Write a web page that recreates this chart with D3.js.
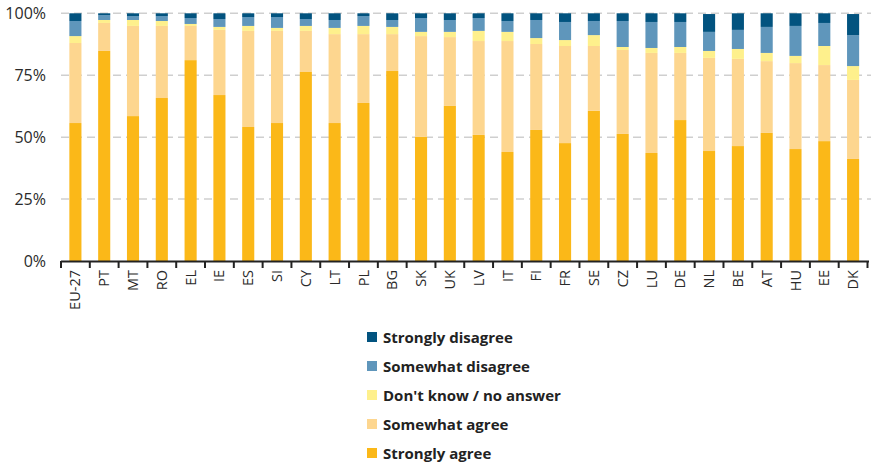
<!DOCTYPE html>
<html><head><meta charset="utf-8">
<script src="https://cdn.jsdelivr.net/npm/d3@7"></script>
<style>body{margin:0;background:#fff}svg{display:block}</style>
</head><body>
<svg id="c" width="871" height="467"></svg>
<script>
const countries = ["EU-27","PT","MT","RO","EL","IE","ES","SI","CY","LT","PL","BG","SK","UK","LV","IT","FI","FR","SE","CZ","LU","DE","NL","BE","AT","HU","EE","DK"];
const stronglyAgree    = [55.7,84.8,58.5,65.8,81.1,67.0,54.1,55.7,76.3,55.7,63.8,76.7,50.1,62.6,50.9,44.0,52.9,47.6,60.6,51.3,43.6,56.9,44.4,46.4,51.7,45.2,48.4,41.2];
const somewhatAgree    = [32.3,11.3,36.4,29.1,13.8,26.3,38.8,37.2,16.6,35.9,27.8,14.9,40.7,27.8,37.9,44.8,34.7,39.2,26.2,33.9,40.4,27.1,37.6,35.2,29.0,34.7,30.7,31.9];
const dontKnow         = [2.8,1.2,2.4,2.0,0.8,1.2,2.0,1.2,2.0,2.5,3.3,2.9,1.7,2.1,4.1,3.7,2.4,2.4,4.4,1.2,2.0,2.4,2.8,4.0,3.3,2.9,7.7,5.6];
const somewhatDisagree = [6.1,2.0,1.6,2.0,2.4,3.2,3.6,4.4,2.8,3.2,4.0,2.8,5.6,4.8,5.2,4.4,7.3,7.3,5.7,10.5,10.5,10.1,7.7,7.7,10.5,12.1,9.3,12.5];
const stronglyDisagree = [3.1,0.7,1.1,1.1,1.9,2.3,1.5,1.5,2.3,2.7,1.1,2.7,1.9,2.7,1.9,3.1,2.7,3.5,3.1,3.1,3.5,3.5,7.2,6.7,5.5,5.1,3.9,8.5];
const seriesNames = ["Strongly agree","Somewhat agree","Don't know / no answer","Somewhat disagree","Strongly disagree"];
const seriesColors = ["#fbb818","#fdd68f","#fef08c","#5f96bb","#02537f"];
const yTicks = [0,25,50,75,100];

const seriesVals = [stronglyAgree,somewhatAgree,dontKnow,somewhatDisagree,stronglyDisagree];
const keys = ["sa","swa","dk","swd","sd"];
const rows = countries.map((c,i)=>{const r={c}; keys.forEach((k,j)=>r[k]=seriesVals[j][i]); return r;});
const stack = d3.stack().keys(keys)(rows);

const svg = d3.select("#c");
const x = d3.scaleBand().domain(countries).range([61,867.5]).paddingInner(0.58).paddingOuter(0.29);
const y = d3.scaleLinear().domain([0,100]).range([261,13.3]);

// gridlines
svg.append("g").selectAll("line").data(yTicks.filter(t=>t>0)).join("line")
  .attr("x1",61).attr("x2",871).attr("y1",d=>y(d)).attr("y2",d=>y(d))
  .attr("stroke","#cfcfcf").attr("stroke-width",1.5).attr("stroke-dasharray","8,5");

// y labels
svg.append("g").selectAll("text").data(yTicks).join("text")
  .attr("x",46).attr("y",d=>y(d)).attr("dy","0.35em").attr("text-anchor","end")
  .attr("font-family","Open Sans, sans-serif").attr("font-size",16).attr("fill","#2a2a2a")
  .text(d=>d+"%");

// bars
svg.append("g").selectAll("g").data(stack).join("g")
  .attr("fill",(d,i)=>seriesColors[i])
  .selectAll("rect").data(d=>d).join("rect")
  .attr("x",d=>x(d.data.c)).attr("width",x.bandwidth())
  .attr("y",d=>y(d[1])).attr("height",d=>y(d[0])-y(d[1]));

// x axis
const step = x.step();
const xa = svg.append("g");
xa.append("line").attr("x1",61).attr("x2",869).attr("y1",261.5).attr("y2",261.5).attr("stroke","#222").attr("stroke-width",2);
xa.selectAll("line.t").data(countries.concat([null])).join("line").attr("class","t")
  .attr("x1",(d,i)=>61+i*step).attr("x2",(d,i)=>61+i*step)
  .attr("y1",261).attr("y2",268).attr("stroke","#222").attr("stroke-width",2);
xa.selectAll("text").data(countries).join("text")
  .attr("transform",d=>`translate(${x(d)+x.bandwidth()/2},270) rotate(-90)`)
  .attr("text-anchor","end").attr("dy","0.35em")
  .attr("font-family","Open Sans, sans-serif").attr("font-size",14.5).attr("fill","#2a2a2a")
  .text(d=>d);

// legend
const legOrder = [4,3,2,1,0];
const lg = svg.append("g");
legOrder.forEach((si,k)=>{
  const yy = 338 + k*29;
  lg.append("rect").attr("x",367).attr("y",yy-6).attr("width",10).attr("height",10).attr("fill",seriesColors[si]);
  lg.append("text").attr("x",383).attr("y",yy).attr("dy","0.35em")
    .attr("font-family","Open Sans, sans-serif").attr("font-weight","bold").attr("font-size",15).attr("fill","#222")
    .text(seriesNames[si]);
});
</script>
</body></html>
